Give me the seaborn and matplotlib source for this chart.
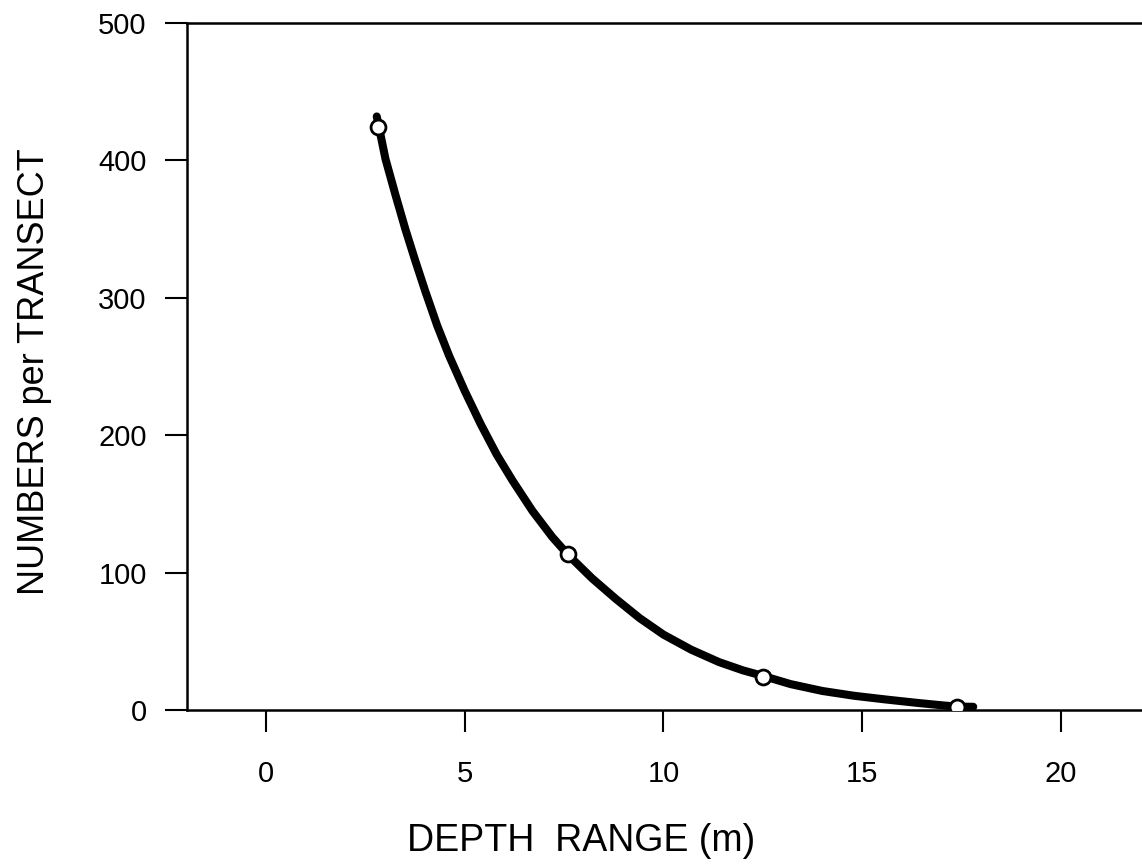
import matplotlib
matplotlib.use("Agg")
import matplotlib.pyplot as plt
import seaborn as sns
import pandas as pd

# Observed points
depth = [2.8, 7.6, 12.5, 17.4]
numbers = [424, 114, 24, 2]

# Fitted curve
curve_depth = [2.78, 3.0, 3.25, 3.5, 3.75, 4.0, 4.3, 4.6, 5.0, 5.4, 5.8, 6.2, 6.7, 7.2, 7.6,
               8.2, 8.8, 9.4, 10.0, 10.7, 11.4, 12.0, 12.5, 13.2, 14.0, 14.8, 15.6, 16.4,
               17.0, 17.4, 17.8]
curve_numbers = [432, 401, 375, 350, 327, 305, 280, 258, 232, 208, 186, 167, 145, 126, 113,
                 96, 81, 67, 55, 44, 35, 29, 25, 19, 14, 10.5, 7.8, 5.3,
                 3.6, 2.6, 2.5]

x_ticks = [0, 5, 10, 15, 20]
y_ticks = [0, 100, 200, 300, 400, 500]

sns.set_style("ticks")
plt.rcParams['font.family'] = ['Liberation Sans', 'DejaVu Sans']

fig = plt.figure(figsize=(11.42, 8.64), dpi=100)
ax = fig.add_axes([0.1637, 0.178, 0.8363, 0.7954])

curve_df = pd.DataFrame({"depth": curve_depth, "numbers": curve_numbers})
pts_df = pd.DataFrame({"depth": depth, "numbers": numbers})

sns.lineplot(data=curve_df, x="depth", y="numbers", sort=False, color="black",
             linewidth=5.8, ax=ax, zorder=2)
sns.scatterplot(data=pts_df, x="depth", y="numbers", s=115, color="white",
                edgecolor="black", linewidth=2.0, ax=ax, zorder=3)

ax.set_xlim(-2, 22.05)
ax.set_ylim(0, 500)
ax.set_xticks(x_ticks)
ax.set_yticks(y_ticks)
ax.tick_params(axis="both", direction="out", length=16, width=1.5, colors="black",
               labelsize=21)
ax.tick_params(axis="x", pad=20)
ax.tick_params(axis="y", pad=13)

for side in ["left", "bottom", "top"]:
    ax.spines[side].set_visible(True)
    ax.spines[side].set_linewidth(1.8)
    ax.spines[side].set_color("black")
ax.spines["right"].set_visible(False)

ax.set_xlabel("DEPTH  RANGE (m)", fontsize=27, labelpad=25, color="black", x=0.4126)
ax.set_ylabel("NUMBERS per TRANSECT", fontsize=26, labelpad=33, color="black", y=0.492)

fig.savefig("out.png", dpi=100, facecolor="white")
